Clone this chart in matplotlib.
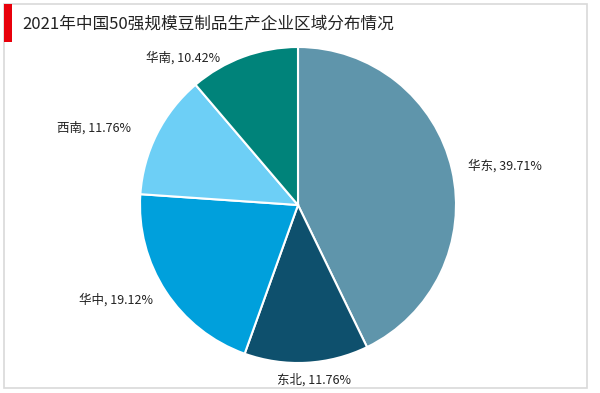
import matplotlib.pyplot as plt
from matplotlib.patches import Rectangle

plt.rcParams['font.family'] = ['Noto Sans CJK SC', 'DejaVu Sans']

# 区域分布数据
regions = ['华东', '东北', '华中', '西南', '华南']
shares = [39.71, 11.76, 19.12, 11.76, 10.42]
colors = ['#5f95ab', '#0e506d', '#00a0dc', '#6dcff6', '#00837a']
labels = [f'{r}, {v:.2f}%' for r, v in zip(regions, shares)]

# 标签位置（饼图半径为1的坐标）
label_pos = [(1.31, 0.25), (0.10, -1.11), (-1.15, -0.60), (-1.29, 0.49), (-0.73, 0.93)]

W, H = 600, 393
fig = plt.figure(figsize=(W / 100, H / 100), dpi=100)

# 外框和红色标记
fig.patches.append(Rectangle((4 / W, 5 / H), 583 / W, 384 / H, transform=fig.transFigure,
                             fill=False, edgecolor='#d9d9d9', linewidth=1.2))
fig.patches.append(Rectangle((4 / W, (H - 42) / H), 8 / W, 38 / H, transform=fig.transFigure,
                             facecolor='#e8000b', edgecolor='none'))
fig.text(22 / W, (H - 24) / H, '2021年中国50强规模豆制品生产企业区域分布情况',
         fontsize=12, va='center', ha='left', color='#222222')

cx, cy, r = 298, 205, 158
ax = fig.add_axes([(cx - r) / W, (H - cy - r) / H, 2 * r / W, 2 * r / H])
wedges, _ = ax.pie(shares, colors=colors, startangle=90, counterclock=False,
                   wedgeprops=dict(edgecolor='white', linewidth=1.5))
for lab, (x, y) in zip(labels, label_pos):
    ax.text(x, y, lab, ha='center', va='center', fontsize=9, color='#222222')
ax.set_xlim(-1, 1)
ax.set_ylim(-1, 1)
ax.set_aspect('equal')

fig.savefig('out.png', dpi=100)
